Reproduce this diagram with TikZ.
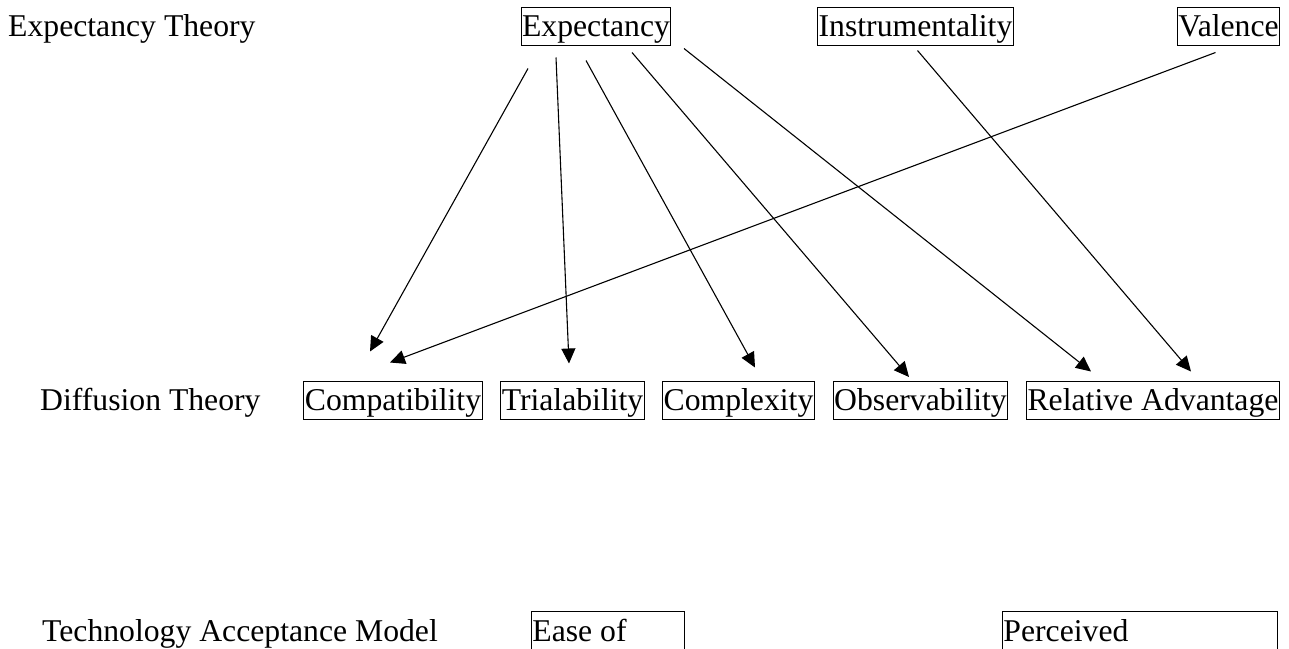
\documentclass[tikz,border=0pt]{standalone}
\usepackage{fontspec}
\setmainfont{Liberation Serif}
\usepackage{tikz}
\usetikzlibrary{arrows.meta}

\tikzset{
  lbl/.style={font=\fontsize{31.7}{38}\selectfont, text height=28.2pt, text depth=6.9pt, inner xsep=1pt, inner ysep=1.5pt},
  fac/.style={lbl, draw, line width=0.9pt},
  lnk/.style={-{Triangle[length=15pt,width=14pt]}, line width=1.1pt}
}

\begin{document}
\begin{tikzpicture}[x=1pt,y=-1pt]
\useasboundingbox (0,0) rectangle (1289,648);
\clip (0,0) rectangle (1289,648);

\node[lbl, anchor=west] (etheory) at (7,26) {Expectancy Theory};
\node[fac] (expy) at (596,26) {Expectancy};
\node[fac] (inst) at (915.5,26) {Instrumentality};
\node[fac] (vale) at (1228.5,26) {Valence};

\node[lbl, anchor=west] (dtheory) at (39,400) {Diffusion Theory};
\node[fac] (comp) at (393,400) {Compatibility};
\node[fac] (tria) at (572.5,400) {Trialability};
\node[fac] (cplx) at (738.5,400) {Complexity};
\node[fac] (obsv) at (920.5,400) {Observability};
\node[fac] (radv) at (1153,400) {Relative Advantage};

\node[lbl, anchor=west] (tam) at (41,630.5) {Technology Acceptance Model};
\node[fac, anchor=north west, text width=151pt, align=flush left, text depth=60pt] (ease) at (531,611) {Ease of};
\node[fac, anchor=north west, text width=273pt, align=flush left, text depth=60pt] (perc) at (1002,611) {Perceived};

\draw[lnk] ([shift={(-68,23)}]expy.south) -- ([shift={(-23,-29)}]comp.north);
\draw[lnk] ([shift={(-40,12)}]expy.south) -- ([shift={(-3.5,-17)}]tria.north);
\draw[lnk] ([shift={(-10,15)}]expy.south) -- ([shift={(16.5,-13)}]cplx.north);
\draw[lnk] ([shift={(36,7)}]expy.south) -- ([shift={(-11.5,-3.5)}]obsv.north);
\draw[lnk] ([shift={(88,3)}]expy.south) -- ([shift={(-62,-9)}]radv.north);
\draw[lnk] ([shift={(2,5)}]inst.south) -- ([shift={(38,-9)}]radv.north);
\draw[lnk] ([shift={(-13,7)}]vale.south) -- ([shift={(-3,-18)}]comp.north);
\end{tikzpicture}
\end{document}
